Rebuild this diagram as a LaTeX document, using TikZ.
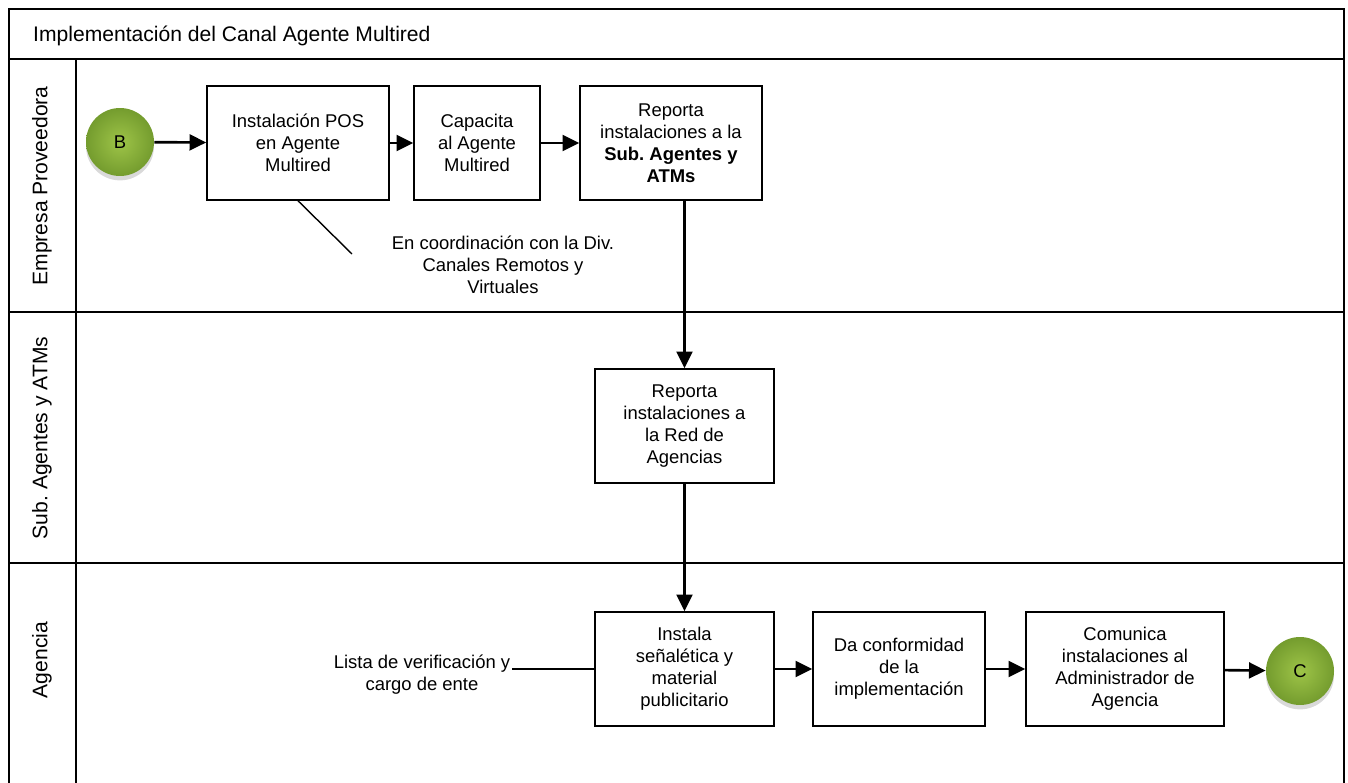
\documentclass[tikz,border=0pt]{standalone}
\usepackage{fontspec}
\setmainfont{Liberation Sans}
\frenchspacing
\usetikzlibrary{arrows.meta,shadows}

\definecolor{evgreen}{RGB}{158,196,72}
\definecolor{evdark}{RGB}{116,156,46}

\tikzset{
  lane/.style={line width=1.3pt},
  task/.style={draw, line width=0.9pt, align=center, inner sep=2pt,
    minimum height=2.28cm, font=\fontsize{10.5}{12.6}\selectfont},
  event/.style={circle, minimum size=1.36cm, inner sep=0pt,
    inner color=evgreen, outer color=evdark,
    drop shadow={opacity=0.3, shadow xshift=0pt, shadow yshift=-2.5pt},
    font=\fontsize{10.5}{12.6}\selectfont},
  flow/.style={line width=1.5pt, -{Triangle[length=9.5pt,width=9pt]}},
  note/.style={align=center, font=\fontsize{10.5}{12.6}\selectfont},
  lanelabel/.style={rotate=90, font=\fontsize{12}{14}\selectfont},
}

\begin{document}
\begin{tikzpicture}[x=0.02cm, y=-0.02cm]
  \useasboundingbox (0,0) rectangle (1348,783);

  % pool and lanes
  \draw[lane] (9,783) -- (9,9) -- (1344,9) -- (1344,783);
  \draw[lane] (9,59) -- (1344,59);
  \draw[lane] (9,312) -- (1344,312);
  \draw[lane] (9,563) -- (1344,563);
  \draw[lane] (76,59) -- (76,783);
  \node[anchor=west, font=\fontsize{12}{14}\selectfont] (title) at (27,36) {Implementación del Canal Agente Multired};
  \node[lanelabel] (laneprov) at (42,186) {Empresa Proveedora};
  \node[lanelabel] (lanesub) at (42,438) {Sub. Agentes y ATMs};
  \node[lanelabel] (laneag) at (42,660) {Agencia};

  % events
  \node[event] (evB) at (120,142) {B};
  \node[event] (evC) at (1300,671) {C};

  % tasks
  \node[task, minimum width=3.64cm] (instpos) at (298,143) {Instalación POS\\en Agente\\Multired};
  \node[task, minimum width=2.52cm] (capacita) at (477,143) {Capacita\\al Agente\\Multired};
  \node[task, minimum width=3.64cm] (repsub) at (671,143) {Reporta\\instalaciones a la\\\textbf{Sub. Agentes y}\\\textbf{ATMs}};
  \node[task, minimum width=3.58cm] (represd) at (684.5,426) {Reporta\\instalaciones a\\la Red de\\Agencias};
  \node[task, minimum width=3.58cm] (instala) at (684.5,669) {Instala\\señalética y\\material\\publicitario};
  \node[task, minimum width=3.44cm] (conform) at (899,669) {Da conformidad\\de la\\implementación};
  \node[task, minimum width=3.96cm] (comunica) at (1125,669) {Comunica\\instalaciones al\\Administrador de\\Agencia};

  % annotations
  \node[note] (notecoord) at (503,265) {En coordinación con la Div.\\Canales Remotos y\\Virtuales};
  \coordinate (notecoordend) at (352,254);
  \node[note] (notelista) at (422,675) {Lista de verificación y\\cargo de ente};
  \coordinate (notelistaend) at (512,669);
  \draw[line width=0.8pt] (instpos.south) -- (notecoordend);
  \draw[line width=0.8pt] (notelistaend) -- (instala.west);

  % flows
  \draw[flow] (evB) -- (instpos);
  \draw[flow] (instpos) -- (capacita);
  \draw[flow] (capacita) -- (repsub);
  \draw[flow] (represd.north |- repsub.south) -- (represd.north);
  \draw[flow] (represd) -- (instala);
  \draw[flow] (instala) -- (conform);
  \draw[flow] (conform) -- (comunica);
  \draw[flow] (comunica) -- (evC);
\end{tikzpicture}
\end{document}
